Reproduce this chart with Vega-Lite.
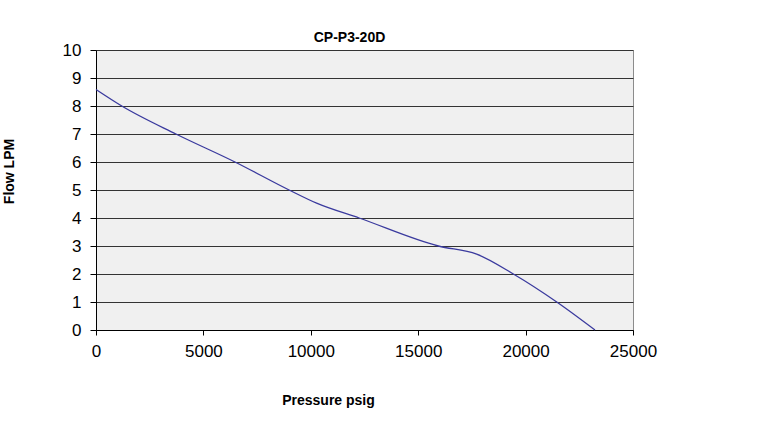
{
  "$schema": "https://vega.github.io/schema/vega-lite/v6.json",
  "autosize": "none",
  "width": 537,
  "height": 280,
  "padding": {"left": 96, "top": 50, "right": 143, "bottom": 98},
  "background": "white",
  "config": {
    "font": "Liberation Sans",
    "view": {"fill": "#f0f0f0", "stroke": "#8c8c8c", "strokeWidth": 1}
  },
  "title": {
    "text": "CP-P3-20D",
    "font": "Liberation Sans",
    "fontSize": 14,
    "fontWeight": "bold",
    "color": "#000000",
    "anchor": "middle",
    "baseline": "alphabetic",
    "offset": 7,
    "dx": -15,
    "dy": 22
  },
  "data": {
    "values": [
      {"pressure": 0, "flow": 8.59},
      {"pressure": 1200, "flow": 8.0},
      {"pressure": 3720, "flow": 7.0},
      {"pressure": 6470, "flow": 6.0},
      {"pressure": 8990, "flow": 5.0},
      {"pressure": 10270, "flow": 4.53},
      {"pressure": 12250, "flow": 4.0},
      {"pressure": 15940, "flow": 3.0},
      {"pressure": 17720, "flow": 2.71},
      {"pressure": 19430, "flow": 2.0},
      {"pressure": 21450, "flow": 1.0},
      {"pressure": 23230, "flow": 0.0}
    ]
  },
  "mark": {"type": "line", "color": "#3a3a9e", "strokeWidth": 1.3, "interpolate": "monotone"},
  "encoding": {
    "x": {
      "field": "pressure",
      "type": "quantitative",
      "scale": {"domain": [0, 25000], "nice": false, "zero": true},
      "axis": {
        "title": "Pressure psig",
        "titleFont": "Liberation Sans",
        "titleFontSize": 14,
        "titleFontWeight": "bold",
        "titleColor": "#000000",
        "titleX": 232,
        "titleY": 70,
        "titleBaseline": "middle",
        "titleAlign": "center",
        "values": [0, 5000, 10000, 15000, 20000, 25000],
        "format": "d",
        "labelFont": "Liberation Sans",
        "labelFontSize": 17,
        "labelColor": "#000000",
        "labelPadding": 8,
        "labelFlush": false,
        "labelOverlap": false,
        "tickSize": 5,
        "tickColor": "#000000",
        "domainColor": "#000000",
        "grid": false
      }
    },
    "y": {
      "field": "flow",
      "type": "quantitative",
      "scale": {"domain": [0, 10], "nice": false},
      "axis": {
        "title": "Flow LPM",
        "titleFont": "Liberation Sans",
        "titleFontSize": 14,
        "titleFontWeight": "bold",
        "titleColor": "#000000",
        "titleAngle": -90,
        "titleX": -87,
        "titleY": 121,
        "titleBaseline": "middle",
        "titleAlign": "center",
        "values": [0, 1, 2, 3, 4, 5, 6, 7, 8, 9, 10],
        "labelFont": "Liberation Sans",
        "labelFontSize": 17,
        "labelColor": "#000000",
        "labelPadding": 9,
        "labelFlush": false,
        "labelOverlap": false,
        "tickSize": 6,
        "tickColor": "#000000",
        "domainColor": "#000000",
        "grid": true,
        "gridColor": "#333333",
        "gridWidth": 1,
        "gridOpacity": 1
      }
    }
  }
}
